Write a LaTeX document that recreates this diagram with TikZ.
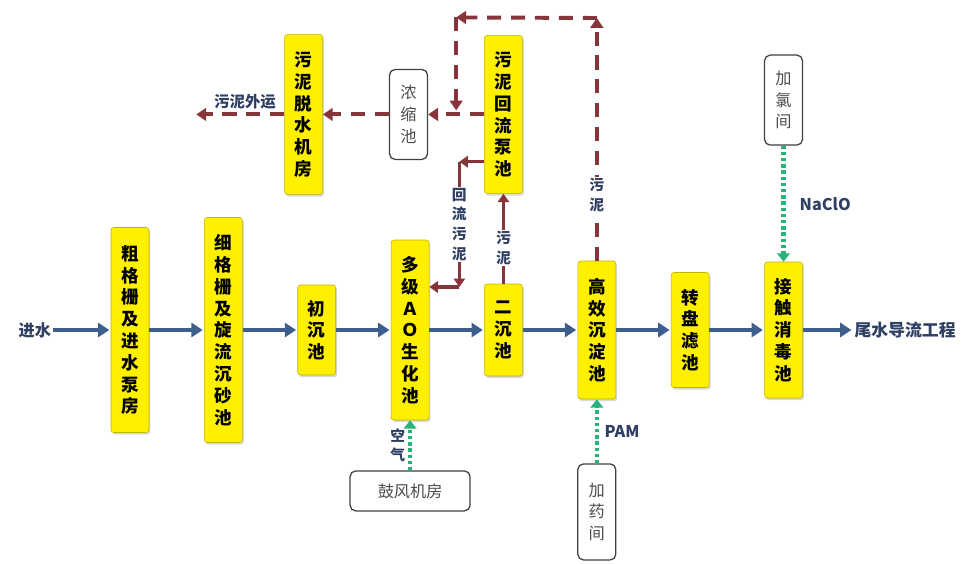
\documentclass[tikz,border=0pt]{standalone}
\usepackage{fontspec}
\setmainfont{Noto Sans CJK SC}
\usetikzlibrary{positioning,calc,arrows.meta,shadows}

\definecolor{flowblue}{RGB}{62,94,140}
\definecolor{sludgered}{RGB}{135,52,58}
\definecolor{dosegreen}{RGB}{40,180,120}
\definecolor{labelblue}{RGB}{48,64,100}
\definecolor{poolyellow}{RGB}{255,240,0}

\begin{document}
\begin{tikzpicture}[node distance=1.37cm,
    pool/.style={draw=poolyellow!75!black, line width=0.4pt, fill=poolyellow, rounded corners=2pt,
        minimum width=0.95cm, inner sep=1pt, align=center,
        font=\fontsize{12.5}{15.5}\selectfont\bfseries,
        drop shadow={opacity=0.3, shadow xshift=1pt, shadow yshift=-1.5pt}},
    room/.style={draw=black!75, line width=0.9pt, fill=white, rounded corners=4pt, align=center,
        minimum width=0.95cm, text=black!70, font=\fontsize{11.5}{15.5}\selectfont},
    lbl/.style={text=labelblue, align=center, inner sep=1pt, font=\fontsize{10.5}{14}\selectfont\bfseries},
    water/.style={draw=flowblue, line width=2.8pt, shorten >=1pt, -{Triangle[length=8pt,width=10pt]}},
    sludge/.style={draw=sludgered, line width=2.8pt, dash pattern=on 10pt off 7pt, -{Triangle[length=7pt,width=9pt]}},
    ret/.style={draw=sludgered, line width=2.5pt, -{Triangle[length=6pt,width=8pt]}},
    dose/.style={draw=dosegreen, line width=3pt, dash pattern=on 2.4pt off 2pt, -{Triangle[length=6pt,width=9pt]}},
]
\useasboundingbox (0,0) rectangle (24.05,14.075);

% main line
\node [pool, minimum height=5.125cm] (coarse) at (3.25,5.825) {粗\\格\\栅\\及\\进\\水\\泵\\房};
\node [lbl, font=\fontsize{11.5}{14}\selectfont\bfseries, left=1.45cm of coarse] (inlet) {进水};
\node [pool, minimum height=5.625cm, right=of coarse] (fine) {细\\格\\栅\\及\\旋\\流\\沉\\砂\\池};
\node [pool, minimum height=2.25cm, right=of fine] (primary) {初\\沉\\池};
\node [pool, minimum height=4.5cm, right=of primary] (ao) {多\\级\\Ａ\\Ｏ\\生\\化\\池};
\node [pool, minimum height=2.3cm, right=of ao] (second) {二\\沉\\池};
\node [pool, minimum height=3.45cm, right=of second] (hrc) {高\\效\\沉\\淀\\池};
\node [pool, minimum height=2.875cm, right=of hrc] (disc) {转\\盘\\滤\\池};
\node [pool, minimum height=3.4cm, right=of disc] (disinf) {接\\触\\消\\毒\\池};
\node [lbl, font=\fontsize{12}{14}\selectfont\bfseries, right=1.25cm of disinf] (outlet) {尾水导流工程};

\draw [water] (inlet) -- (coarse);
\draw [water] (coarse) -- (fine);
\draw [water] (fine) -- (primary);
\draw [water] (primary) -- (ao);
\draw [water] (ao) -- (second);
\draw [water] (second) -- (hrc);
\draw [water] (hrc) -- (disc);
\draw [water] (disc) -- (disinf);
\draw [water] (disinf) -- (outlet);

% sludge line
\node [pool, minimum height=3.95cm, above=2.25cm of second] (pump) {污\\泥\\回\\流\\泵\\池};
\node [room, minimum height=2.25cm, left=1.4cm of pump] (thick) {浓\\缩\\池};
\node [pool, minimum height=4cm, left=1.65cm of thick] (dewater) {污\\泥\\脱\\水\\机\\房};
\coordinate [left=2.2cm of dewater.west] (out);
\node [lbl, font=\fontsize{11}{14}\selectfont\bfseries] (outtext) at (6.125,11.52) {污泥外运};

\coordinate (tr) at (hrc.north |- 0,13.625);
\coordinate (tl) at ($(thick.east)!0.5!(pump.west) + (0,2.425)$);
\coordinate (tj) at ($(thick.east)!0.5!(pump.west) + (0,0.1)$);

\draw [sludge] (hrc.north) -- node [lbl, fill=white, pos=0.27] {污\\泥} (tr);
\draw [sludge] (tr) -- (tl);
\draw [sludge] (tl) -- (tj);
\draw [sludge] (pump) -- (thick);
\draw [sludge] (thick) -- (dewater);
\draw [sludge] (dewater) -- (out);

\coordinate (rs) at ($(pump.south west)+(0,0.8)$);
\coordinate (rc1) at ($(rs)+(-0.62,0)$);
\coordinate (rc2) at (rc1 |- 0,6.9);
\draw [ret] (rs) -- (rc1);
\draw [ret] (rc1) -- node [lbl, fill=white] {回\\流\\污\\泥} (rc2);
\draw [ret] (rc2) -- (ao.east |- rc2);
\draw [ret] (second) -- node [lbl, fill=white, pos=0.4] {污\\泥} (pump);

% dosing
\node [room, minimum width=3cm, minimum height=1cm, below=1.25cm of ao] (blower) {鼓风机房};
\node [room, minimum height=2.4cm, below=1.6cm of hrc] (pam) {加\\药\\间};
\node [room, minimum height=2.25cm, above=2.9cm of disinf] (chlor) {加\\氯\\间};

\draw [dose] (blower) -- node [lbl, left=1pt] {空\\气} (blower.north |- ao.south);
\draw [dose] (pam) -- node [lbl, right=3pt, font=\fontsize{11.5}{14}\selectfont\bfseries] {PAM} (hrc);
\draw [dose] (chlor) -- node [lbl, right=9pt, font=\fontsize{11.5}{14}\selectfont\bfseries] {NaClO} (disinf);
\end{tikzpicture}
\end{document}
